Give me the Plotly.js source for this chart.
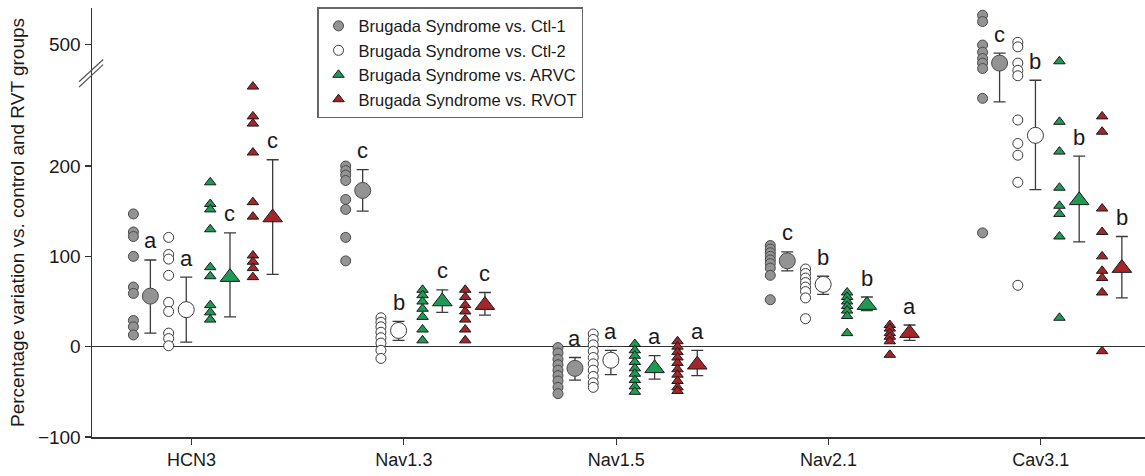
<!DOCTYPE html>
<html>
<head>
<meta charset="utf-8">
<script src="https://cdn.plot.ly/plotly-3.0.1.min.js"></script>
<style>html,body{margin:0;padding:0;background:#fff;}#chart{width:1145px;height:476px;}</style>
</head>
<body>
<div id="chart"></div>
<script>
// ---------------- data ----------------
const categories = ['HCN3', 'Nav1.3', 'Nav1.5', 'Nav2.1', 'Cav3.1'];
const groupNames = ['Brugada Syndrome vs. Ctl-1', 'Brugada Syndrome vs. Ctl-2',
                    'Brugada Syndrome vs. ARVC', 'Brugada Syndrome vs. RVOT'];

// individual values per category (HCN3, Nav1.3, Nav1.5, Nav2.1, Cav3.1)
const ctl1Values = [
  [147, 127, 122, 100, 66, 59, 29, 22, 13],
  [200, 195, 190, 184, 163, 152, 121, 95],
  [-1, -7, -14, -20, -26, -32, -38, -45, -52],
  [112, 108, 104, 100, 96, 92, 87, 79, 52],
  [532, 525, 499, 491, 484, 479, 473, 275, 126]
];
const ctl2Values = [
  [121, 102, 97, 79, 49, 39, 15, 9, 1],
  [32, 27, 22, 16, 10, 4, -4, -13],
  [14, 8, 2, -5, -12, -19, -26, -33, -40, -45],
  [86, 81, 76, 71, 66, 61, 54, 31],
  [502, 497, 479, 471, 300, 251, 225, 212, 182, 68]
];
const arvcValues = [
  [182, 158, 152, 130, 88, 78, 46, 38, 30],
  [63, 57, 50, 42, 33, 19, 7],
  [3, -4, -10, -17, -24, -30, -37, -44, -50],
  [60, 55, 50, 45, 40, 34, 15],
  [481, 249, 216, 176, 156, 147, 122, 32]
];
const rvotValues = [
  [288, 255, 247, 215, 160, 144, 101, 94, 87, 77],
  [63, 55, 46, 39, 30, 19, 7],
  [6, 0, -6, -12, -18, -25, -31, -38, -45, -49],
  [24, 20, 15, 11, 6, -9],
  [255, 238, 153, 127, 100, 84, 76, 60, -5]
];

// group summaries: mean, upper and lower whisker ends
const ctl1Mean  = [56, 173, -24, 95, 479];
const ctl1Upper = [96, 196, -12, 105, 490];
const ctl1Lower = [15, 150, -37, 84, 271];
const ctl2Mean  = [41, 18, -15, 69, 234];
const ctl2Upper = [77, 28, -4, 78, 295];
const ctl2Lower = [5, 7, -31, 58, 174];
const arvcMean  = [77, 50, -24, 46, 162];
const arvcUpper = [126, 63, -10, 55, 211];
const arvcLower = [33, 38, -36, 40, 116];
const rvotMean  = [143, 46, -20, 15, 87];
const rvotUpper = [207, 60, -4, 24, 122];
const rvotLower = [80, 35, -32, 7, 54];

// significance letters
const ctl1Letters = ['a', 'c', 'a', 'c', 'c'];
const ctl2Letters = ['a', 'b', 'a', 'b', 'b'];
const arvcLetters = ['c', 'c', 'a', 'b', 'b'];
const rvotLetters = ['c', 'c', 'a', 'a', 'b'];

const yTickValues = [-100, 0, 100, 200, 500];
const yTickLabels = ['\u2212100', '0', '100', '200', '500'];

// ---------------- broken y axis ----------------
const BREAK_LO = 304, BREAK_HI = 469;   // values between these are cut out
function brk(v) { return v >= BREAK_HI ? v - (BREAK_HI - BREAK_LO) : v; }

// ---------------- styling ----------------
const FONT = 'Liberation Sans, Arial, Helvetica, sans-serif';
const pointOffset = [-0.274, -0.108, 0.088, 0.289];
const meanOffset  = [-0.194, -0.025, 0.181, 0.382];
const styles = [
  {symbol: 'circle', color: '#939393', line: '#4a4a4a', size: 10, msize: 16},
  {symbol: 'circle', color: '#ffffff', line: '#3a3a3a', size: 10, msize: 16},
  {symbol: 'triangle-up', color: '#1f9a55', line: '#1a1a1a', size: 10, msize: 17},
  {symbol: 'triangle-up', color: '#a3262a', line: '#1a1a1a', size: 10, msize: 17}
];

const groups = [
  {vals: ctl1Values, mean: ctl1Mean, up: ctl1Upper, lo: ctl1Lower, let: ctl1Letters},
  {vals: ctl2Values, mean: ctl2Mean, up: ctl2Upper, lo: ctl2Lower, let: ctl2Letters},
  {vals: arvcValues, mean: arvcMean, up: arvcUpper, lo: arvcLower, let: arvcLetters},
  {vals: rvotValues, mean: rvotMean, up: rvotUpper, lo: rvotLower, let: rvotLetters}
];

const traces = [];
const annotations = [];
groups.forEach((g, gi) => {
  const st = styles[gi];
  const xs = [], ys = [];
  g.vals.forEach((arr, ci) => arr.forEach(v => { xs.push(ci + pointOffset[gi]); ys.push(brk(v)); }));
  traces.push({
    type: 'scatter', mode: 'markers', name: groupNames[gi], x: xs, y: ys,
    cliponaxis: false, hoverinfo: 'skip',
    marker: {symbol: st.symbol, size: st.size, color: st.color, line: {color: st.line, width: 1}}
  });
});
groups.forEach((g, gi) => {
  const st = styles[gi];
  const mx = categories.map((c, ci) => ci + meanOffset[gi]);
  const my = g.mean.map(brk);
  traces.push({
    type: 'scatter', mode: 'markers', showlegend: false, x: mx, y: my,
    cliponaxis: false, hoverinfo: 'skip',
    marker: {symbol: st.symbol, size: st.msize, color: st.color, line: {color: st.line, width: 1}},
    error_y: {
      type: 'data', symmetric: false,
      array: g.up.map((u, i) => brk(u) - my[i]),
      arrayminus: g.lo.map((l, i) => my[i] - brk(l)),
      color: '#3a3a3a', thickness: 1.3, width: 6
    }
  });
  g.let.forEach((t, ci) => annotations.push({
    x: mx[ci], y: brk(g.up[ci]), xref: 'x', yref: 'y', text: t, showarrow: false,
    yanchor: 'middle', yshift: 19, font: {family: FONT, size: 22, color: '#1a1a1a'}
  }));
});

// axis break marks (paper coordinates)
const shapes = [
  {type: 'line', xref: 'paper', yref: 'paper', x0: -0.0123, y0: 0.828, x1: 0.0106, y1: 0.880,
   line: {color: '#555', width: 1.2}},
  {type: 'line', xref: 'paper', yref: 'paper', x0: -0.0123, y0: 0.816, x1: 0.0106, y1: 0.868,
   line: {color: '#555', width: 1.2}}
];

const layout = {
  width: 1145, height: 476,
  margin: {l: 92, r: 0, t: 8, b: 39},
  paper_bgcolor: '#ffffff', plot_bgcolor: '#ffffff',
  font: {family: FONT, color: '#1a1a1a'},
  showlegend: true,
  legend: {
    x: 0.2137, y: 1.002, xanchor: 'left', yanchor: 'top',
    bgcolor: '#ffffff', bordercolor: '#666', borderwidth: 1.5,
    font: {family: FONT, size: 16.5, color: '#1a1a1a'},
    tracegroupgap: 0, itemwidth: 30
  },
  xaxis: {
    range: [-0.469, 4.491], tickmode: 'array', tickvals: categories.map((c, i) => i), ticktext: categories,
    ticks: 'outside', ticklen: 6, tickwidth: 1.2, tickcolor: '#333',
    showline: true, linecolor: '#333', linewidth: 1.5,
    showgrid: false, zeroline: false, tickfont: {family: FONT, size: 18, color: '#1a1a1a'}
  },
  yaxis: {
    range: [-100, 375], tickmode: 'array', tickvals: yTickValues.map(brk), ticktext: yTickLabels,
    ticks: 'outside', ticklen: 6, tickwidth: 1.2, tickcolor: '#333',
    showline: true, linecolor: '#333', linewidth: 1.5,
    showgrid: false, zeroline: true, zerolinecolor: '#333', zerolinewidth: 1.3,
    tickfont: {family: FONT, size: 19, color: '#1a1a1a'},
    title: {text: 'Percentage variation vs. control and RVT groups', standoff: 8,
            font: {family: FONT, size: 19, color: '#1a1a1a'}}
  },
  annotations: annotations,
  shapes: shapes
};

Plotly.newPlot('chart', traces, layout, {displayModeBar: false, staticPlot: true});
</script>
</body>
</html>
